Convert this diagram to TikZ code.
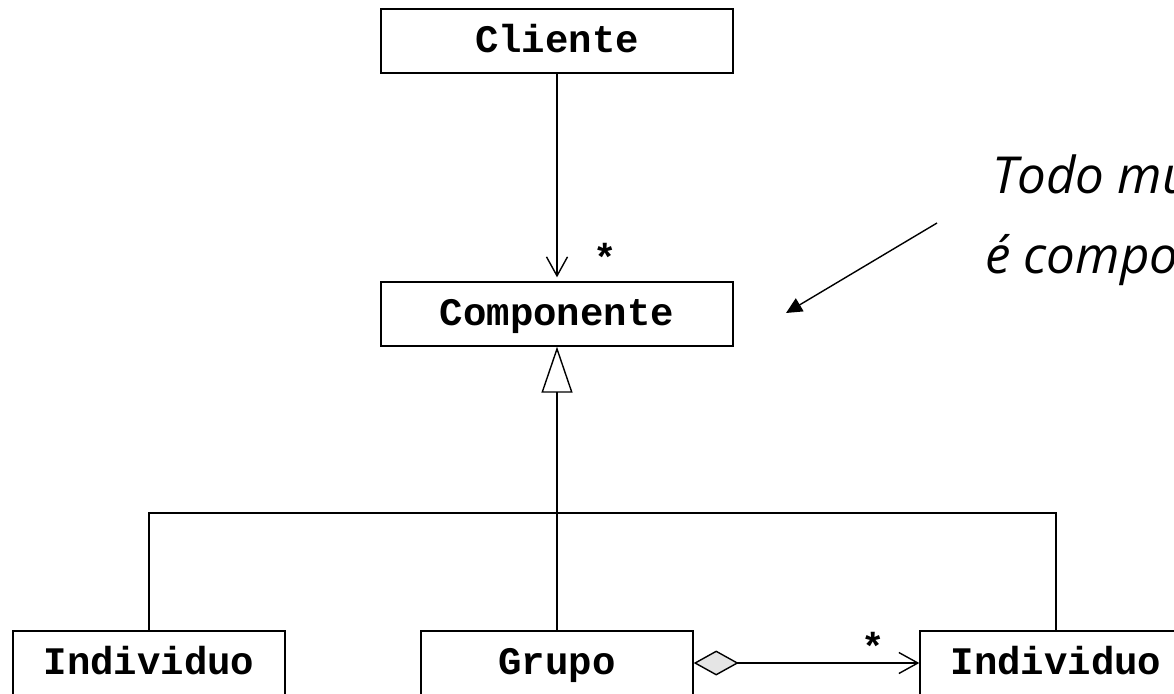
\documentclass[tikz,border=0pt]{standalone}
\usepackage{fontspec}
\usepackage{tikz}
\usetikzlibrary{arrows.meta}
\newfontfamily\classefont{Liberation Mono}
\newfontfamily\notafont{Open Sans}
\def\classe{\classefont\bfseries\fontsize{39}{44}\selectfont}

\begin{document}
\begin{tikzpicture}[x=1pt, y=-1pt,
	classbox/.style={draw, line width=1.4pt, inner sep=0pt, font=\classe,
		text height=23pt, text depth=0pt, minimum height=64pt},
	linha/.style={line width=1.4pt},
	seta/.style={linha, -{Straight Barb[length=19pt, width=21pt]}},
	heranca/.style={line width=2.6pt, -{Triangle[open, length=46pt, width=31pt, line width=1.4pt]}},
	agrega/.style={linha, {Diamond[length=45pt, width=25pt, fill=black!10]}-{Straight Barb[length=19pt, width=21pt]}},
	nota/.style={font=\notafont\itshape\fontsize{51}{56}\selectfont, inner sep=0pt, anchor=base west}]
		%%%%% START %%%%%
		\useasboundingbox (0, 0) rectangle (1174, 693);
		\clip (0, 0) rectangle (1174, 693);
		
		\node[classbox, minimum width=352pt] (cliente) at (557, 41) {Cliente};
		\node[classbox, minimum width=352pt] (componente) at (557, 314) {Componente};
		
		\node[classbox, minimum width=272pt] (individuo1) at (149, 663) {Individuo};
		\node[classbox, minimum width=272pt] (grupo) at (557, 663) {Grupo};
		\node[classbox, minimum width=272pt] (individuo2) at (1056, 663) {Individuo};
		
		\draw[seta, shorten >=4pt] (cliente) -- (componente);
		\node[font=\classe] (multi1) at (605, 257) {*};
		
		\coordinate (juncao) at (557, 513);
		\draw[heranca] (juncao) -- (componente);
		\draw[linha] (individuo1) |- (juncao) -| (individuo2);
		\draw[linha] (grupo) -- (juncao);
		
		\draw[agrega] (grupo) -- (individuo2);
		\node[font=\classe] (multi2) at (873, 646) {*};
		
		% nota, cortada na borda direita
		\node[nota] (nota1) at (992, 193) {Todo mu};
		\node[nota] (nota2) at (985, 273) {é compo};
		\coordinate (notaInicio) at (937, 223);
		\coordinate (notaAlvo) at (786, 313);
		\draw[linha, -{Triangle[length=16pt, width=15pt]}] (notaInicio) -- (notaAlvo);
		
		%%%%% END %%%%%
	\end{tikzpicture}
\end{document}
